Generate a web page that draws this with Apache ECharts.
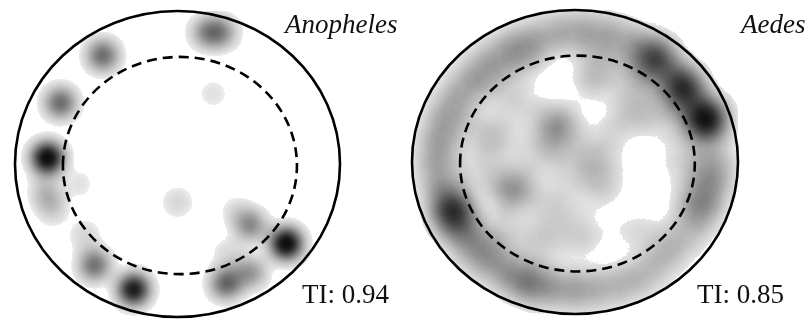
<!DOCTYPE html>
<html>
<head>
<meta charset="utf-8">
<script src="https://cdn.jsdelivr.net/npm/echarts@6/dist/echarts.min.js"></script>
<style>
html, body { margin: 0; padding: 0; background: #fff; }
#chart { width: 807px; height: 321px; }
</style>
</head>
<body>
<div id="chart"></div>
<script>
// labels of the two arenas
const panelNames = ['Anopheles', 'Aedes']
const tiLabels = ['TI: 0.94', 'TI: 0.85']

// density points: [x, y, weight], x/y in arena radii (centre = 0,0, y up)
const anophelesPoints = [
    [0.18, 0.86, 0.4], [0.27, 0.86, 0.4],
    [-0.46, 0.71, 0.57],
    [-0.72, 0.40, 0.57],
    [-0.80, 0.04, 1.0],
    [-0.81, -0.18, 0.25], [-0.77, -0.29, 0.2], [-0.61, -0.13, 0.1],
    [0.22, 0.46, 0.1],
    [0.00, -0.25, 0.14],
    [-0.57, -0.47, 0.15], [-0.51, -0.66, 0.55],
    [-0.27, -0.82, 0.9],
    [0.45, -0.40, 0.45], [0.36, -0.31, 0.12], [0.32, -0.59, 0.15],
    [0.67, -0.52, 1.0],
    [0.30, -0.78, 0.6], [0.45, -0.71, 0.4]
]
const aedesPoints = [
    // outer band
    [0.85, 0.00, 0.28], [0.80, 0.28, 1.0], [0.66, 0.49, 0.85], [0.50, 0.68, 0.7],
    [0.36, 0.78, 0.25], [0.21, 0.84, 0.25], [0.06, 0.86, 0.25], [-0.09, 0.85, 0.25],
    [-0.25, 0.81, 0.25], [-0.40, 0.75, 0.25], [-0.53, 0.66, 0.25], [-0.64, 0.54, 0.25],
    [-0.73, 0.41, 0.25], [-0.80, 0.28, 0.25], [-0.83, 0.14, 0.25], [-0.85, 0.00, 0.25],
    [-0.82, -0.16, 0.28], [-0.75, -0.32, 0.75], [-0.71, -0.43, 0.28], [-0.64, -0.55, 0.28],
    [-0.55, -0.64, 0.25], [-0.43, -0.72, 0.28], [-0.29, -0.79, 0.45], [-0.15, -0.83, 0.25],
    [0.00, -0.84, 0.28], [0.14, -0.84, 0.2], [0.28, -0.81, 0.2], [0.39, -0.76, 0.16],
    [0.49, -0.70, 0.16], [0.59, -0.61, 0.14], [0.67, -0.51, 0.15], [0.75, -0.40, 0.18],
    [0.80, -0.28, 0.25], [0.84, -0.14, 0.28],
    // inner zone
    [-0.11, 0.23, 0.45], [-0.38, -0.18, 0.45], [-0.58, 0.21, 0.16], [-0.49, 0.51, 0.16],
    [-0.31, 0.67, 0.2], [0.15, 0.66, 0.16], [0.37, 0.57, 0.2], [0.31, 0.28, 0.18],
    [0.55, 0.28, 0.18], [0.67, 0.01, 0.18], [0.71, -0.25, 0.2], [0.15, -0.18, 0.16],
    [0.03, -0.48, 0.2], [-0.21, -0.51, 0.22], [-0.46, -0.48, 0.22], [-0.58, -0.05, 0.16],
    [-0.21, 0.05, 0.18], [0.00, -0.02, 0.2], [-0.12, -0.28, 0.2], [0.15, 0.11, 0.16],
    [-0.34, 0.38, 0.16], [0.12, 0.54, 0.2], [-0.46, 0.14, 0.18], [0.17, -0.05, 0.15],
    [0.50, -0.50, 0.15], [0.40, 0.40, 0.18], [0.32, -0.45, 0.1]
]

// arena wall and dashed inner zone: [cx, cy, rx, ry]
const arenaWall = [[0, 0, 1, 1]]
const innerZone = [[0.015, -0.01, 0.72, 0.71]]

// grey ramp for the accumulated density (0 .. 1 in steps of 0.05)
const densityColors = ['#ffffff', '#e0e0e0', '#cbcbcb', '#b4b4b4', '#9c9c9c', '#838383',
    '#6a6a6a', '#505050', '#383838', '#222222', '#111111',
    '#080808', '#050505', '#050505', '#050505', '#050505',
    '#050505', '#050505', '#050505', '#050505', '#050505']

echarts.registerMap('arena', {
    type: 'FeatureCollection',
    features: [{
        type: 'Feature',
        properties: { name: 'arena' },
        geometry: { type: 'Polygon', coordinates: [[[-1, -1], [1, -1], [1, 1], [-1, 1], [-1, -1]]] }
    }]
})

const chart = echarts.init(document.getElementById('chart'))

const boxes = [
    { left: 15, top: 11, width: 325, height: 306 },
    { left: 412, top: 10, width: 326, height: 304 }
]

function geoFor(b) {
    return {
        map: 'arena',
        roam: false,
        silent: true,
        left: b.left, top: b.top, width: b.width, height: b.height,
        aspectScale: b.width / b.height,
        itemStyle: { areaColor: 'rgba(0,0,0,0)', borderWidth: 0 },
        emphasis: { disabled: true },
        select: { disabled: true },
        label: { show: false },
        tooltip: { show: false }
    }
}

function ellipseItem(dash) {
    return function (params, api) {
        const c = api.coord([api.value(0), api.value(1)])
        const s = api.size([api.value(2) * 2, api.value(3) * 2], [api.value(0), api.value(1)])
        return {
            type: 'ellipse',
            shape: { cx: c[0], cy: c[1], rx: s[0] / 2, ry: s[1] / 2 },
            style: { fill: 'none', stroke: '#000', lineWidth: 2.6, lineDash: dash }
        }
    }
}

function rings(geoIndex) {
    return [{
        type: 'custom', coordinateSystem: 'geo', geoIndex: geoIndex, z: 10, silent: true,
        renderItem: ellipseItem(null), data: arenaWall
    }, {
        type: 'custom', coordinateSystem: 'geo', geoIndex: geoIndex, z: 10, silent: true,
        renderItem: ellipseItem([10, 6]), data: innerZone
    }]
}

function visualFor(seriesIndex, low) {
    return {
        type: 'continuous',
        show: false,
        seriesIndex: seriesIndex,
        min: 0,
        max: 1,
        range: [low, 1],
        inRange: { color: densityColors },
        outOfRange: { color: 'rgba(255,255,255,0)' }
    }
}

const option = {
    animation: false,
    backgroundColor: '#fff',
    geo: [geoFor(boxes[0]), geoFor(boxes[1])],
    visualMap: [visualFor(0, 0.035), visualFor(1, 0.045)],
    series: [
        {
            type: 'heatmap', coordinateSystem: 'geo', geoIndex: 0,
            pointSize: 12, blurSize: 20, minOpacity: 1, maxOpacity: 1,
            data: anophelesPoints
        },
        {
            type: 'heatmap', coordinateSystem: 'geo', geoIndex: 1,
            pointSize: 16, blurSize: 28, minOpacity: 1, maxOpacity: 1,
            data: aedesPoints
        },
        ...rings(0),
        ...rings(1)
    ],
    graphic: [
        { type: 'text', left: 285, top: 12, style: { text: panelNames[0], font: 'italic 27px "Liberation Serif"', fill: '#111' } },
        { type: 'text', left: 741, top: 12, style: { text: panelNames[1], font: 'italic 27px "Liberation Serif"', fill: '#111' } },
        { type: 'text', left: 302, top: 282, style: { text: tiLabels[0], font: '27px "Liberation Serif"', fill: '#111' } },
        { type: 'text', left: 697, top: 282, style: { text: tiLabels[1], font: '27px "Liberation Serif"', fill: '#111' } }
    ]
}

chart.setOption(option)
</script>
</body>
</html>
